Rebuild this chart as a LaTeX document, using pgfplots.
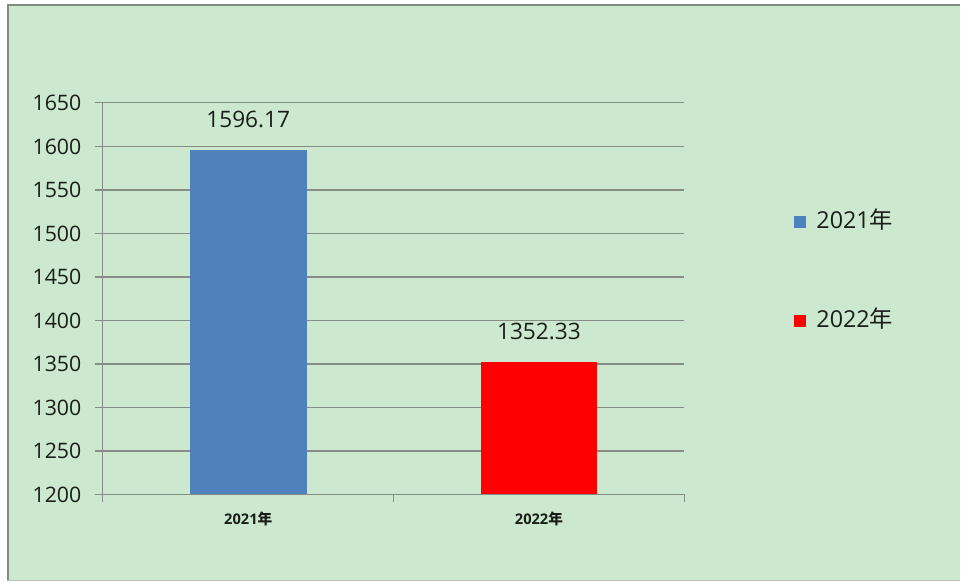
\documentclass[border=0pt]{standalone}
\usepackage{pgfplots}
\pgfplotsset{compat=1.18}
\usepackage{fontspec}
\setmainfont{Open Sans}
\newfontfamily\cjk{Noto Sans CJK SC}

\definecolor{bggreen}{RGB}{204,232,207}
\definecolor{framegray}{RGB}{128,140,128}
\definecolor{gridgray}{RGB}{134,140,134}
\definecolor{barblue}{RGB}{79,129,189}
\definecolor{barred}{RGB}{255,0,0}
\definecolor{textdark}{RGB}{26,30,26}

\begin{document}
\begin{tikzpicture}
    % page background and frame (1px = 0.75pt)
    \fill[white] (0pt,0pt) rectangle (720.75pt,436.5pt);
    \fill[bggreen] (5.25pt,0pt) rectangle (720.75pt,433.5pt);
    \draw[framegray, line width=1.5pt] (6pt,0pt) -- (6pt,432.75pt) -- (720.75pt,432.75pt);
    \draw[lightgray, line width=0.75pt] (5.25pt,0.4pt) -- (720.75pt,0.4pt);

    \begin{axis}[
            at={(77.25pt,65.25pt)},
            anchor=south west,
            scale only axis,
            width=436.5pt,
            height=294pt,
            ybar,
            bar width=87.75pt,
            bar shift=0pt,
            xmin=-0.5, xmax=1.5,
            ymin=1200, ymax=1650,
            xtick={-0.5,0.5,1.5},
            x tick label as interval,
            xticklabels={2021{\cjk 年},2022{\cjk 年}},
            ytick={1200,1250,...,1650},
            axis lines*=left,
            axis line style={gridgray, line width=0.9pt},
            tick align=outside,
            tick pos=left,
            major tick length=6pt,
            tick style={gridgray, line width=0.9pt},
            ymajorgrids,
            y grid style={gridgray, line width=0.9pt},
            /pgf/number format/assume math mode=true,
            /pgf/number format/1000 sep={},
            yticklabel style={font=\fontsize{16}{19}\selectfont, text=textdark, inner sep=0pt, xshift=-10pt},
            xticklabel style={font=\fontsize{11}{13}\selectfont\bfseries, text=textdark, inner sep=0pt, yshift=-7pt},
            point meta=explicit symbolic,
            nodes near coords,
            every node near coord/.append style={font=\fontsize{17}{20}\selectfont, text=textdark, inner sep=0pt, anchor=south, yshift=16.5pt},
            legend style={
                    draw=none, fill=none,
                    at={(1.189,0.570)}, anchor=west,
                    inner sep=0pt,
                    row sep=60pt,
                    nodes={inner sep=0pt, anchor=west, text height=12pt, text depth=2pt, text=textdark, font=\fontsize{17.5}{20}\selectfont},
                    /tikz/column 1/.style={column sep=7.5pt},
                },
            legend image code/.code={\fill[#1] (0pt,-4.5pt) rectangle (9pt,4.5pt);},
        ]
        \addplot [fill=barblue, draw=none] coordinates {(0,1596.17) [1596.17]};
        \addlegendentry{2021{\cjk 年}}
        \addplot [fill=barred, draw=none] coordinates {(1,1352.33) [1352.33]};
        \addlegendentry{2022{\cjk 年}}
    \end{axis}
\end{tikzpicture}
\end{document}
